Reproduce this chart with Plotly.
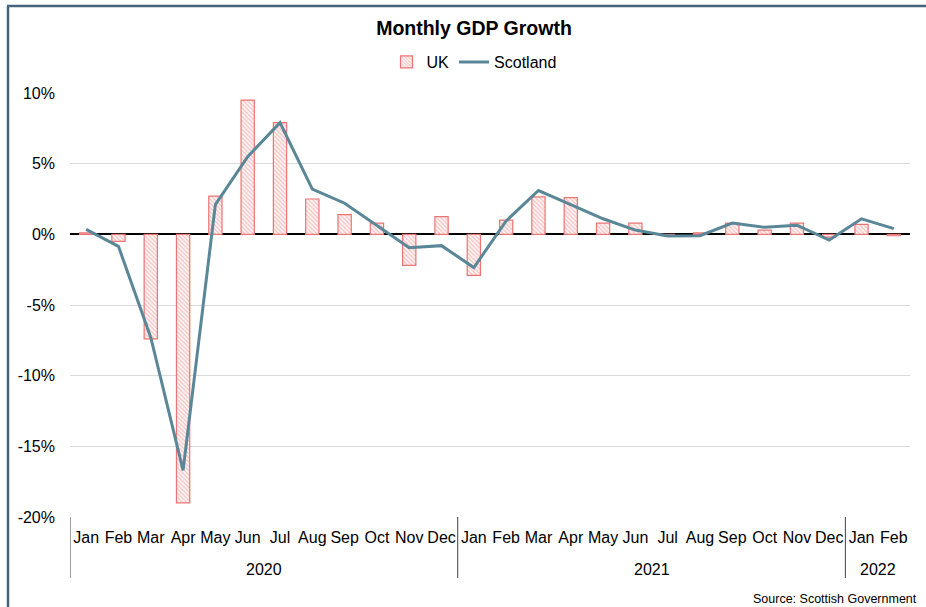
import plotly.graph_objects as go

months = ["Jan", "Feb", "Mar", "Apr", "May", "Jun", "Jul", "Aug", "Sep", "Oct", "Nov", "Dec",
          "Jan", "Feb", "Mar", "Apr", "May", "Jun", "Jul", "Aug", "Sep", "Oct", "Nov", "Dec",
          "Jan", "Feb"]
years = ["2020"] * 12 + ["2021"] * 12 + ["2022"] * 2

uk = [0.1, -0.5, -7.4, -19.0, 2.7, 9.5, 7.9, 2.5, 1.4, 0.8, -2.2, 1.25,
      -2.9, 1.0, 2.65, 2.6, 0.8, 0.8, -0.1, 0.1, 0.8, 0.3, 0.8, -0.2,
      0.7, -0.1]
scotland = [0.35, -0.85, -7.3, -16.7, 2.1, 5.5, 7.9, 3.2, 2.2, 0.6, -0.95, -0.8,
            -2.35, 0.95, 3.1, 2.1, 1.1, 0.3, -0.12, -0.1, 0.8, 0.5, 0.65, -0.4,
            1.1, 0.4]
y_ticks = [10, 5, 0, -5, -10, -15, -20]

FONT = "Liberation Sans, Arial, sans-serif"
idx = list(range(len(months)))

# plot area in pixels
L, R, T, B = 70, 910, 93, 517
W, H = 926, 607
def px_x(p):
    return (p - L) / (R - L)
def px_y(p):
    return (B - p) / (B - T)

fig = go.Figure()
fig.add_trace(go.Bar(
    x=idx, y=uk, name="UK",
    marker=dict(color="white", line=dict(color="#EB7474", width=1.2),
                pattern=dict(shape="\\", fgcolor="#EE8585", bgcolor="#FFF6F6", size=3, solidity=0.4)),
    width=0.41,
))
fig.add_trace(go.Scatter(
    x=idx, y=scotland, name="Scotland", mode="lines",
    line=dict(color="#5A8797", width=3),
))

shapes = []
groups = []
for i, yv in enumerate(years):
    if not groups or groups[-1][0] != yv:
        groups.append([yv, i, i])
    else:
        groups[-1][2] = i
annotations = []
for yv, s, e in groups:
    shapes.append(dict(type="line", xref="x", yref="paper", x0=s - 0.5, x1=s - 0.5,
                       y0=0, y1=px_y(578), line=dict(color="#404040", width=1)))
    annotations.append(dict(text=yv, x=(s + e) / 2, xref="x", y=px_y(569), yref="paper",
                            showarrow=False, xanchor="center", yanchor="middle",
                            font=dict(family=FONT, size=16, color="#000000")))

# frame border (extends beyond the screenshot on right/bottom)
shapes.append(dict(type="line", xref="paper", yref="paper", x0=px_x(7), x1=px_x(930),
                   y0=px_y(6), y1=px_y(6), line=dict(color="#45647E", width=2.5)))
shapes.append(dict(type="line", xref="paper", yref="paper", x0=px_x(8), x1=px_x(8),
                   y0=px_y(6), y1=px_y(612), line=dict(color="#45647E", width=2.5)))

annotations.append(dict(text="Source: Scottish Government", x=px_x(919), xref="paper",
                        y=px_y(599), yref="paper", showarrow=False, xanchor="right",
                        yanchor="middle", font=dict(family=FONT, size=12.5, color="#000000")))

fig.update_layout(
    width=W, height=H,
    margin=dict(l=L, r=W - R, t=T, b=H - B, pad=0),
    paper_bgcolor="white", plot_bgcolor="white",
    font=dict(family=FONT, color="#000000"),
    title=dict(text="<b>Monthly GDP Growth</b>", x=474 / W, xref="container", xanchor="center",
               y=1 - 28 / H, yref="container", yanchor="middle",
               font=dict(family=FONT, size=19.5, color="#000000")),
    legend=dict(orientation="h", x=px_x(474), xanchor="center", y=px_y(62), yanchor="middle",
                font=dict(family=FONT, size=16, color="#000000"), bgcolor="rgba(0,0,0,0)",
                traceorder="normal"),
    showlegend=True,
    xaxis=dict(range=[-0.5, len(months) - 0.5], tickmode="array", tickvals=idx, ticktext=months,
               tickangle=0, showgrid=False, zeroline=False, showline=False, ticks="",
               ticklabelstandoff=9,
               tickfont=dict(family=FONT, size=16, color="#000000")),
    yaxis=dict(range=[-20, 10], tickmode="array", tickvals=y_ticks,
               ticktext=[f"{v}%" for v in y_ticks],
               showgrid=True, gridcolor="#D9D9D9", gridwidth=1,
               zeroline=True, zerolinecolor="#000000", zerolinewidth=1.5,
               showline=False, ticks="", ticklabelstandoff=14,
               tickfont=dict(family=FONT, size=16, color="#000000")),
    shapes=shapes, annotations=annotations,
)
fig.write_html("out.html")
